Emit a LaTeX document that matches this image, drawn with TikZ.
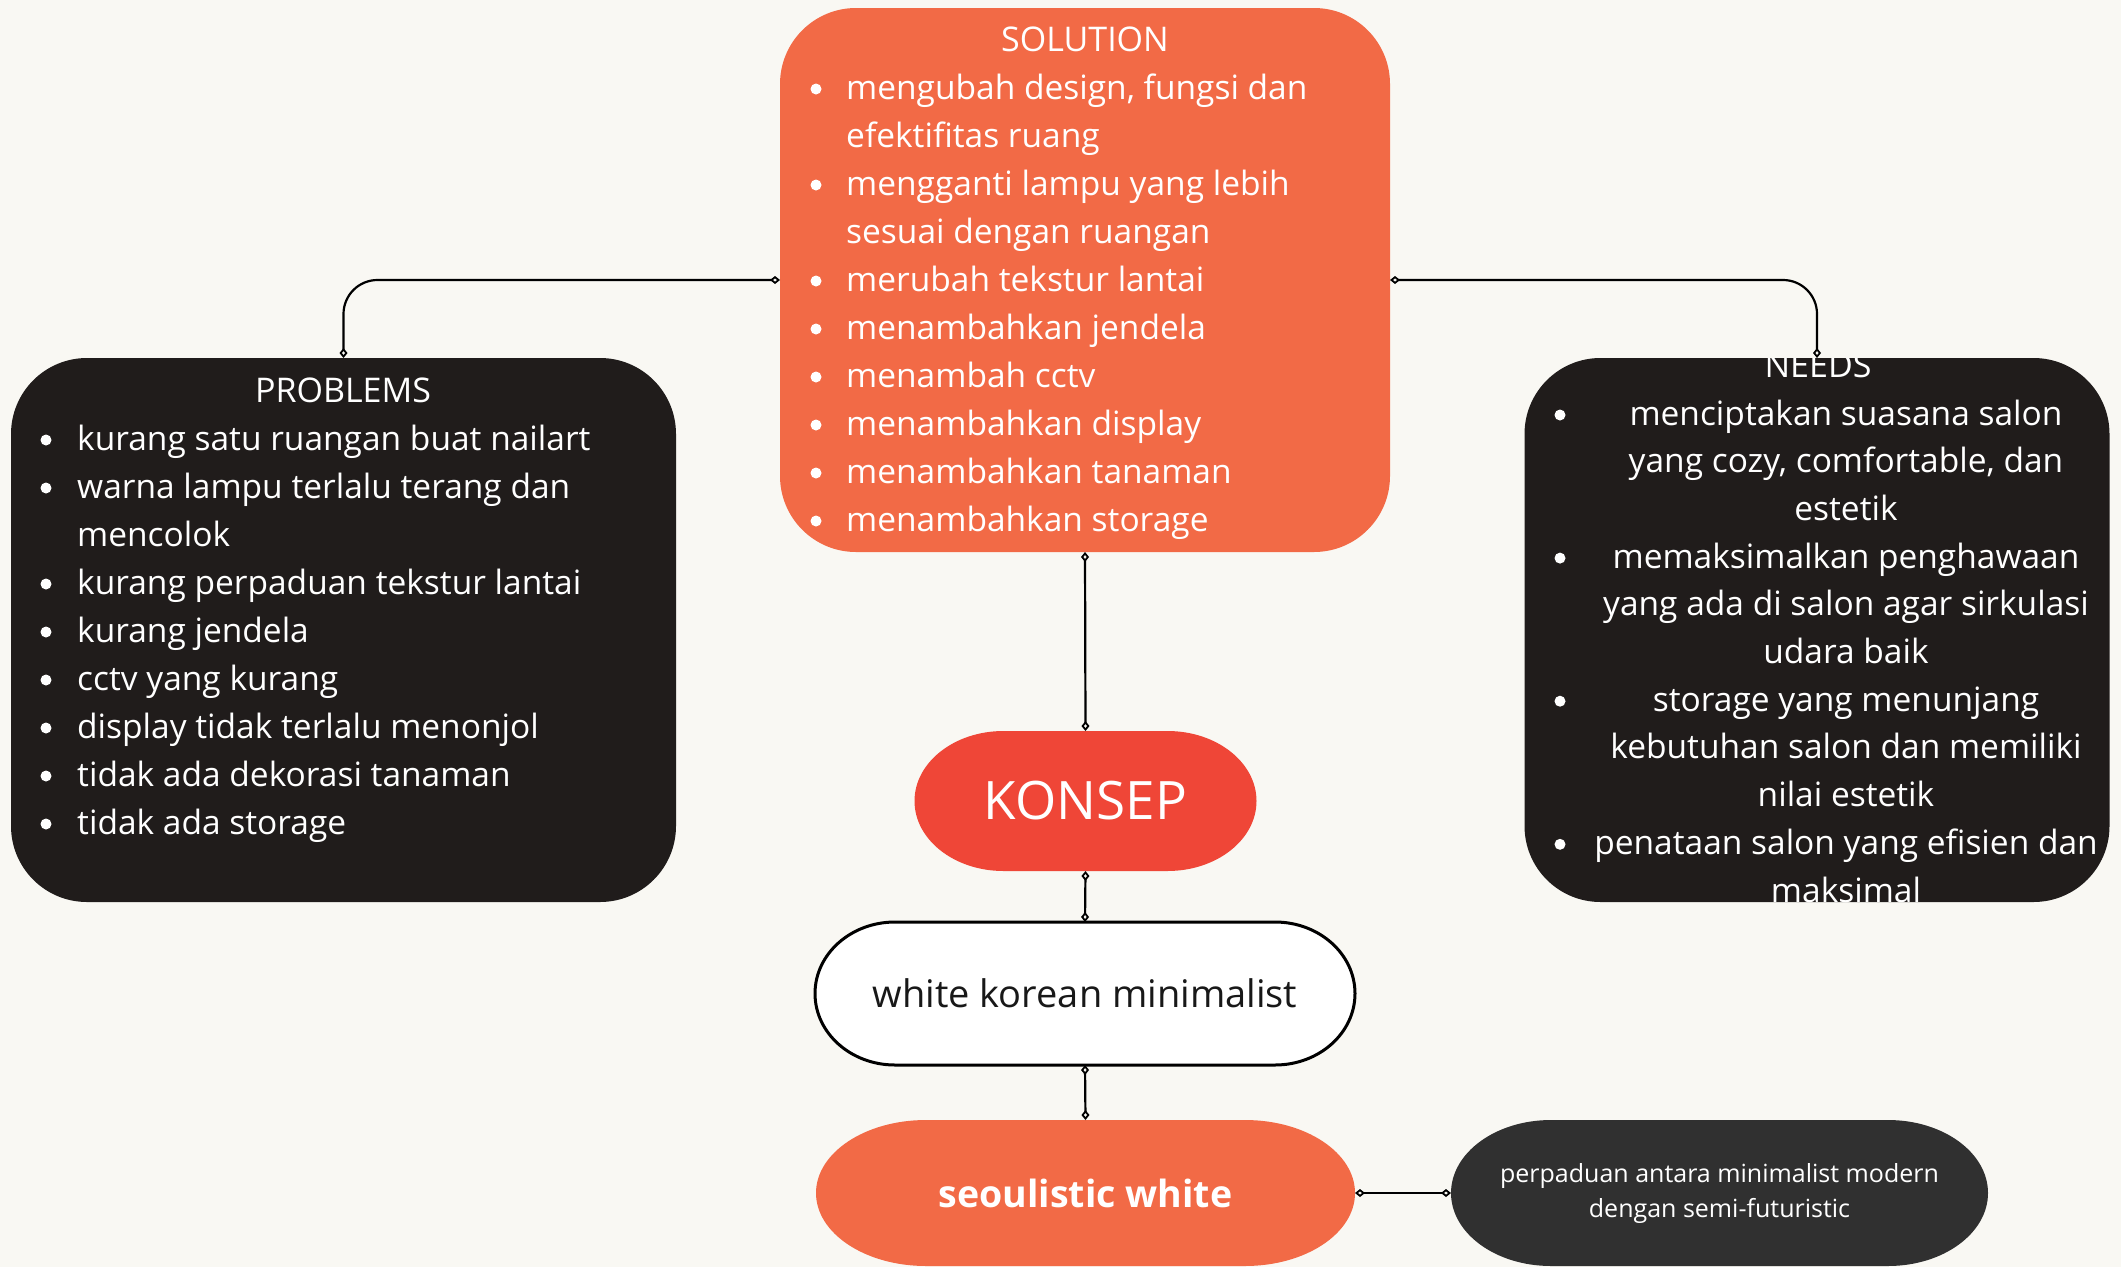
\documentclass[tikz,border=0pt]{standalone}
\usepackage{fontspec}
\setmainfont{Open Sans}
\usetikzlibrary{arrows.meta,backgrounds}
\definecolor{bg}{RGB}{249,248,243}
\definecolor{orng}{RGB}{242,106,70}
\definecolor{konsepred}{RGB}{239,70,55}
\definecolor{blk}{RGB}{32,28,27}
\definecolor{dgray}{RGB}{48,48,48}
\definecolor{ink}{RGB}{24,24,24}
\newcommand\pillpath[4]{%
\path[#4] ([xshift=#2]#1.north west) -- ([xshift=-#2]#1.north east)
 arc[start angle=90,end angle=0,x radius=#2,y radius=#3]
 -- ([yshift=#3]#1.south east)
 arc[start angle=0,end angle=-90,x radius=#2,y radius=#3]
 -- ([xshift=#2]#1.south west)
 arc[start angle=270,end angle=180,x radius=#2,y radius=#3]
 -- ([yshift=-#3]#1.north west)
 arc[start angle=180,end angle=90,x radius=#2,y radius=#3] -- cycle;}
\tikzset{
 bigbox/.style={rectangle, rounded corners=76pt, inner sep=0pt, outer sep=0pt},
 pill/.style={rectangle, inner sep=0pt, outer sep=0pt, align=center},
 head/.style={text=white, inner sep=0pt, anchor=base, font=\fontsize{34}{40}\selectfont},
 itemtxt/.style={text=white, inner sep=0pt, anchor=base west, font=\fontsize{33.5}{48}\selectfont},
 ctrtxt/.style={text=white, inner sep=0pt, anchor=base, font=\fontsize{33.5}{48}\selectfont},
 dmd/.tip={Diamond[open,length=10pt,width=8pt,line width=1.8pt]},
 conn/.style={draw=black, line width=2.2pt, {dmd}-{dmd}, rounded corners=34pt},
 bul/.style={fill=white}
}
\begin{document}
\begin{tikzpicture}[x=1pt,y=1pt]
\useasboundingbox (0,0) rectangle (2121,-1267);
\begin{pgfonlayer}{background}
\fill[bg] (0,0) rectangle (2121,-1267);
\end{pgfonlayer}

% big boxes
\node[bigbox, fill=orng, minimum width=610pt, minimum height=544pt] (sol) at (1085,-280) {};
\node[bigbox, fill=blk, minimum width=665pt, minimum height=544pt] (prob) at (343.5,-630) {};
\node[bigbox, fill=blk, minimum width=585pt, minimum height=544pt] (need) at (1817,-630) {};

% pills
\node[pill, minimum width=342pt, minimum height=140pt, text=white, font=\fontsize{53}{60}\selectfont] (konsep) at (1085.5,-801) {KONSEP};
\node[pill, minimum width=540pt, minimum height=143pt, text=ink, font=\fontsize{38}{46}\selectfont] (wk) at (1085,-993.5) {white korean minimalist};
\node[pill, minimum width=539pt, minimum height=146pt, text=white, font=\fontsize{37.5}{44}\selectfont\bfseries] (sw) at (1085.5,-1193) {seoulistic white};
\node[pill, minimum width=537pt, minimum height=146pt, text=white, font=\fontsize{25}{35}\selectfont] (pd) at (1719.5,-1193) {perpaduan antara minimalist modern\\dengan semi-futuristic};
\begin{pgfonlayer}{background}
\pillpath{konsep}{89pt}{70pt}{fill=konsepred}
\pillpath{wk}{80pt}{71.5pt}{fill=white, draw=black, line width=3pt}
\pillpath{sw}{110pt}{73pt}{fill=orng}
\pillpath{pd}{100pt}{73pt}{fill=dgray}
\end{pgfonlayer}

% SOLUTION text
\node[head] (solh) at (1085,-51) {SOLUTION};
\node[itemtxt] (s1) at (846,-99) {mengubah design, fungsi dan};
\node[itemtxt] (s1b) at (846,-147) {efektifitas ruang};
\node[itemtxt] (s2) at (846,-195) {mengganti lampu yang lebih};
\node[itemtxt] (s2b) at (846,-243) {sesuai dengan ruangan};
\node[itemtxt] (s3) at (846,-291) {merubah tekstur lantai};
\node[itemtxt] (s4) at (846,-339) {menambahkan jendela};
\node[itemtxt] (s5) at (846,-387) {menambah cctv};
\node[itemtxt] (s6) at (846,-435) {menambahkan display};
\node[itemtxt] (s7) at (846,-483) {menambahkan tanaman};
\node[itemtxt] (s8) at (846,-531) {menambahkan storage};
\foreach \y in {99,195,291,339,387,435,483,531} \fill[bul] (816,-\y+10) circle (5.5pt);

% PROBLEMS text
\node[head] (probh) at (343,-402) {PROBLEMS};
\node[itemtxt] (p1) at (77,-450) {kurang satu ruangan buat nailart};
\node[itemtxt] (p2) at (77,-498) {warna lampu terlalu terang dan};
\node[itemtxt] (p2b) at (77,-546) {mencolok};
\node[itemtxt] (p3) at (77,-594) {kurang perpaduan tekstur lantai};
\node[itemtxt] (p4) at (77,-642) {kurang jendela};
\node[itemtxt] (p5) at (77,-690) {cctv yang kurang};
\node[itemtxt] (p6) at (77,-738) {display tidak terlalu menonjol};
\node[itemtxt] (p7) at (77,-786) {tidak ada dekorasi tanaman};
\node[itemtxt] (p8) at (77,-834) {tidak ada storage};
\foreach \y in {450,498,594,642,690,738,786,834} \fill[bul] (46,-\y+10) circle (5.5pt);

% NEEDS text (clipped by box)
\begin{scope}
\clip[rounded corners=76pt] (need.north west) rectangle (need.south east);
\node[head] (needh) at (1818,-377) {NEEDS};
\node[ctrtxt] (n1) at (1846,-425) {menciptakan suasana salon};
\node[ctrtxt] (n1b) at (1846,-472.7) {yang cozy, comfortable, dan};
\node[ctrtxt] (n1c) at (1846,-520.4) {estetik};
\node[ctrtxt] (n2) at (1846,-568.1) {memaksimalkan penghawaan};
\node[ctrtxt] (n2b) at (1846,-615.8) {yang ada di salon agar sirkulasi};
\node[ctrtxt] (n2c) at (1846,-663.5) {udara baik};
\node[ctrtxt] (n3) at (1846,-711.2) {storage yang menunjang};
\node[ctrtxt] (n3b) at (1846,-758.9) {kebutuhan salon dan memiliki};
\node[ctrtxt] (n3c) at (1846,-806.6) {nilai estetik};
\node[ctrtxt] (n4) at (1846,-854.3) {penataan salon yang efisien dan};
\node[ctrtxt] (n4b) at (1846,-902) {maksimal};
\end{scope}
\foreach \y in {425,568.1,711.2,854.3} \fill[bul] (1560,-\y+10) circle (5.5pt);

% connectors
\draw[conn] (sol.west) -| (prob.north);
\draw[conn] (sol.east) -| (need.north);
\draw[conn] (sol.south) -- (konsep.north);
\draw[conn] (konsep.south) -- (wk.north);
\draw[conn] (wk.south) -- (sw.north);
\draw[conn] (sw.east) -- (pd.west);
\end{tikzpicture}
\end{document}
